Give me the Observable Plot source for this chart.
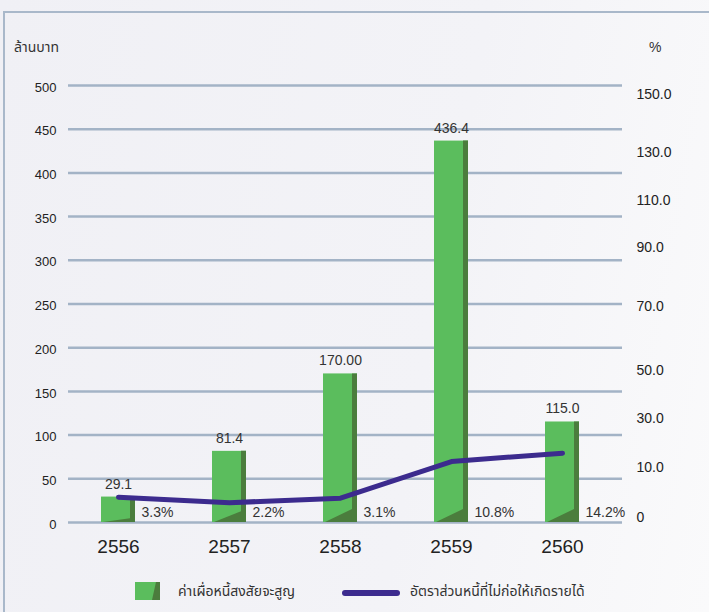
<!DOCTYPE html>
<html><head><meta charset="utf-8">
<script src="https://cdn.jsdelivr.net/npm/d3@7"></script>
<script src="https://cdn.jsdelivr.net/npm/@observablehq/plot@0.6"></script>
<style>
html,body{margin:0;padding:0;}
body{width:709px;height:612px;overflow:hidden;position:relative;
  background:linear-gradient(100deg,#f0f0f5 0%,#f3f3f7 60%,#fafafb 100%);
  font-family:"Liberation Sans",Arial,"Noto Sans Thai","Noto Sans",sans-serif;color:#222;}
#frame{position:absolute;left:3px;top:11px;right:-10px;bottom:-10px;border-left:2.5px solid #a9b8ca;border-top:2.5px solid #a9b8ca;}
#chart{position:absolute;left:0;top:0;}
.t{position:absolute;font-size:14px;color:#333;line-height:18px;white-space:nowrap;}
</style></head>
<body>
<div id="frame"></div>
<div id="chart"></div>
<div class="t" style="left:14px;top:38px;">ล้านบาท</div>
<div class="t" style="left:649px;top:38px;">%</div>
<div id="legend"></div>
<script>
const years = ["2556", "2557", "2558", "2559", "2560"];
const allowance = [29.1, 81.4, 170.0, 436.4, 115.0];
const allowanceLabels = ["29.1", "81.4", "170.00", "436.4", "115.0"];
const nplRatio = [3.3, 2.2, 3.1, 10.8, 14.2];
const leftTicks = [0, 50, 100, 150, 200, 250, 300, 350, 400, 450, 500];
const rightTickValues = [0, 10, 30, 50, 70, 90, 110, 130, 150];
const rightTickLabels = ["0", "10.0", "30.0", "50.0", "70.0", "90.0", "110.0", "130.0", "150.0"];
// where each right-axis label sits, read on the left (million baht) axis
const rightTickLevels = [10, 67.5, 124, 178, 252, 319, 373, 428, 494];
const seriesNames = ["ค่าเผื่อหนี้สงสัยจะสูญ", "อัตราส่วนหนี้ที่ไม่ก่อให้เกิดรายได้"];

const pct = d3.scaleLinear().domain(rightTickValues).range(rightTickLevels);
const rightLabelMap = new Map(rightTickLevels.map((v, i) => [v, rightTickLabels[i]]));
const data = years.map((year, i) => ({year, allowance: allowance[i], label: allowanceLabels[i], ratio: nplRatio[i]}));

const GREEN = "#5bbd5d", DARK = "#4b7d3d", PURPLE = "#3c2b8e", GRID = "#a3b3c6";

const svg = Plot.plot({
  width: 709, height: 570,
  marginLeft: 68, marginRight: 87, marginTop: 85, marginBottom: 48,
  style: {background: "transparent", fontFamily: '"Liberation Sans", Arial, sans-serif', color: "#222", overflow: "visible"},
  x: {type: "band", domain: years, range: [61.25, 618.75], paddingInner: 0.695, paddingOuter: 0.3475, label: null},
  y: {domain: [0, 500], label: null},
  marks: [
    Plot.ruleY(leftTicks, {stroke: GRID, strokeWidth: 2.5}),
    Plot.barY(data, {x: "year", y: "allowance", fill: GREEN}),
    Plot.line(data, {x: "year", y: d => pct(d.ratio), stroke: PURPLE, strokeWidth: 5, strokeLinejoin: "round", strokeLinecap: "round"}),
    Plot.text(data, {x: "year", y: "allowance", text: "label", dy: -13, fontSize: 14, fill: "#333"}),
    Plot.text(data, {x: "year", y: 0, text: d => d.ratio.toFixed(1) + "%", dx: 23, dy: -10, textAnchor: "start", fontSize: 14, fill: "#333"}),
    Plot.axisX({tickSize: 0, tickPadding: 17, fontSize: 19, label: null}),
    Plot.axisY({ticks: leftTicks, tickSize: 0, tickPadding: 12, fontSize: 13, label: null, dy: 2}),
    Plot.axisY({anchor: "right", ticks: rightTickLevels, tickFormat: d => rightLabelMap.get(d), tickSize: 0, tickPadding: 14, fontSize: 14, label: null, textAnchor: "start", dy: 4})
  ]
});
document.getElementById("chart").appendChild(svg);

// darker folded edge on each bar
d3.select(svg).selectAll('g[aria-label="bar"] rect').each(function () {
  const r = d3.select(this);
  const x = +r.attr("x"), w = +r.attr("width"), y = +r.attr("y"), h = +r.attr("height");
  const x1 = x + w, yb = y + h;
  const depth = Math.min(13, h * 0.15);
  const pts = [[x1 - 5, y], [x1, y], [x1, yb], [x + 2, yb], [x1 - 5, yb - depth]];
  d3.select(this.parentNode).append("polygon")
    .attr("points", pts.map(p => p.join(",")).join(" "))
    .attr("fill", DARK);
});

// legend
const lg = document.getElementById("legend");
lg.innerHTML = `
<svg style="position:absolute;left:135px;top:582px" width="26" height="19">
  <rect x="0" y="0" width="25" height="18" fill="${GREEN}"></rect>
  <polygon points="21,0 25,0 25,18 17,18" fill="${DARK}"></polygon>
</svg>
<div class="t" style="left:178px;top:582px;">${seriesNames[0]}</div>
<div style="position:absolute;left:342px;top:590px;width:58px;height:6px;border-radius:3px;background:${PURPLE}"></div>
<div class="t" style="left:410px;top:582px;">${seriesNames[1]}</div>`;
</script>
</body></html>
